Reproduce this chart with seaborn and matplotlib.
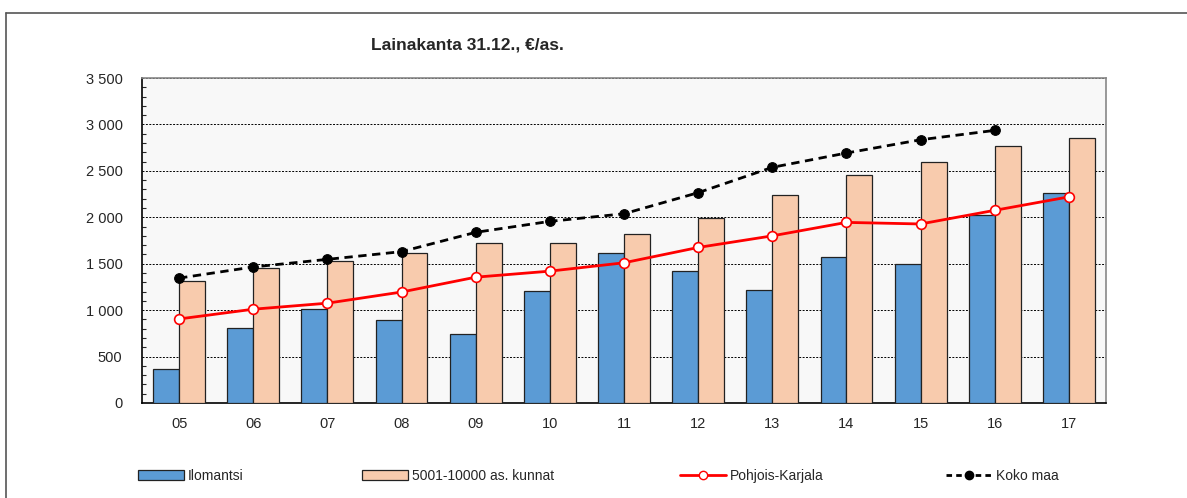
import numpy as np
import pandas as pd
import matplotlib
matplotlib.use("Agg")
import matplotlib.pyplot as plt
import seaborn as sns
from matplotlib.lines import Line2D
from matplotlib.patches import Patch
from matplotlib.ticker import FuncFormatter, MultipleLocator, FixedLocator

categories = ["05", "06", "07", "08", "09", "10", "11", "12", "13", "14", "15", "16", "17"]
ilomantsi = [370, 810, 1010, 890, 745, 1210, 1620, 1420, 1215, 1570, 1500, 2030, 2260]
kunnat = [1310, 1450, 1530, 1615, 1725, 1725, 1815, 1995, 2240, 2460, 2595, 2770, 2850]
pohjois_karjala = [905, 1010, 1075, 1195, 1355, 1420, 1510, 1675, 1800, 1945, 1928, 2075, 2220]
koko_maa = [1345, 1465, 1547, 1630, 1838, 1956, 2038, 2265, 2538, 2692, 2835, 2936, np.nan]
series_names = ["Ilomantsi", "5001-10000 as. kunnat", "Pohjois-Karjala", "Koko maa"]
title = "Lainakanta 31.12., €/as."

sns.set_style("white")
plt.rcParams["font.family"] = ["Liberation Sans", "DejaVu Sans"]

fig = plt.figure(figsize=(11.87, 4.98), dpi=100)
ax = fig.add_axes([142 / 1187, 1 - 403 / 498, (1106 - 142) / 1187, (403 - 78) / 498])
ax.set_facecolor("#f8f8f8")

df = pd.DataFrame({
    "cat": categories * 2,
    "val": ilomantsi + kunnat,
    "series": [series_names[0]] * len(categories) + [series_names[1]] * len(categories),
})
blue = "#5B9BD5"
peach = "#F8CBAD"
sns.barplot(data=df, x="cat", y="val", hue="series", order=categories,
            hue_order=series_names[:2], palette=[blue, peach], width=0.7,
            gap=0, edgecolor="#222222", linewidth=0.9, saturation=1,
            legend=False, ax=ax, zorder=3)

xpos = np.arange(len(categories))
sns.lineplot(x=xpos, y=pohjois_karjala, color="red", lw=2, marker="o",
             markersize=7, markerfacecolor="white", markeredgecolor="red",
             markeredgewidth=1.2, ax=ax, zorder=5)
sns.lineplot(x=xpos, y=koko_maa, color="black", lw=2, linestyle=(0, (3, 2)),
             marker="o", markersize=7, markerfacecolor="black",
             markeredgecolor="black", ax=ax, zorder=6)

ax.set_xlim(-0.5, len(categories) - 0.5)
ax.set_ylim(0, 3500)
ax.yaxis.set_major_locator(MultipleLocator(500))
ax.yaxis.set_minor_locator(MultipleLocator(100))
ax.yaxis.set_major_formatter(FuncFormatter(lambda v, p: f"{int(v):,}".replace(",", " ")))
ax.grid(axis="y", which="major", color="black", linestyle=(0, (2, 1.5)), lw=0.7, zorder=0)
ax.set_axisbelow(True)
ax.set_xticks(xpos)
ax.set_xticklabels(categories)
ax.xaxis.set_minor_locator(FixedLocator(np.arange(-0.5, len(categories), 1.0)))
ax.tick_params(axis="x", which="major", length=0, pad=10, labelsize=10.5)
ax.tick_params(axis="x", which="minor", length=8, direction="inout", width=1, color="#333333")
ax.tick_params(axis="y", which="major", length=6, direction="out", width=1, labelsize=10.5, pad=8)
ax.tick_params(axis="y", which="minor", length=3, direction="in", width=0.8, left=True)
ax.set_xlabel("")
ax.set_ylabel("")
for s in ["left", "bottom"]:
    ax.spines[s].set_color("black")
    ax.spines[s].set_linewidth(1.2)
for s in ["top", "right"]:
    ax.spines[s].set_color("#888888")
    ax.spines[s].set_linewidth(1.2)

fig.text(467 / 1187, 1 - 45 / 498, title, ha="center", va="center",
         fontsize=12.5, fontweight="bold")

# frame border
fig.add_artist(Line2D([6 / 1187, 6 / 1187], [0, 1 - 13 / 498], color="#555555", lw=1.2,
                      transform=fig.transFigure))
fig.add_artist(Line2D([6 / 1187, 1], [1 - 13 / 498, 1 - 13 / 498], color="#555555", lw=1.2,
                      transform=fig.transFigure))

handles = [
    Patch(facecolor=blue, edgecolor="#222222", lw=0.9),
    Patch(facecolor=peach, edgecolor="#222222", lw=0.9),
    Line2D([], [], color="red", lw=2, marker="o", markersize=6,
           markerfacecolor="white", markeredgecolor="red"),
    Line2D([], [], color="black", lw=2, linestyle=(0, (2, 1.5)), marker="o",
           markersize=6, markerfacecolor="black"),
]
xstarts = [138, 362, 680, 946]
for h, name, xs in zip(handles, series_names, xstarts):
    fig.legend([h], [name], loc="center left", bbox_to_anchor=(xs / 1187, 1 - 476 / 498),
               frameon=False, fontsize=10, handlelength=3.3, handletextpad=0.3,
               borderpad=0, borderaxespad=0)

fig.savefig("out.png", dpi=100)
